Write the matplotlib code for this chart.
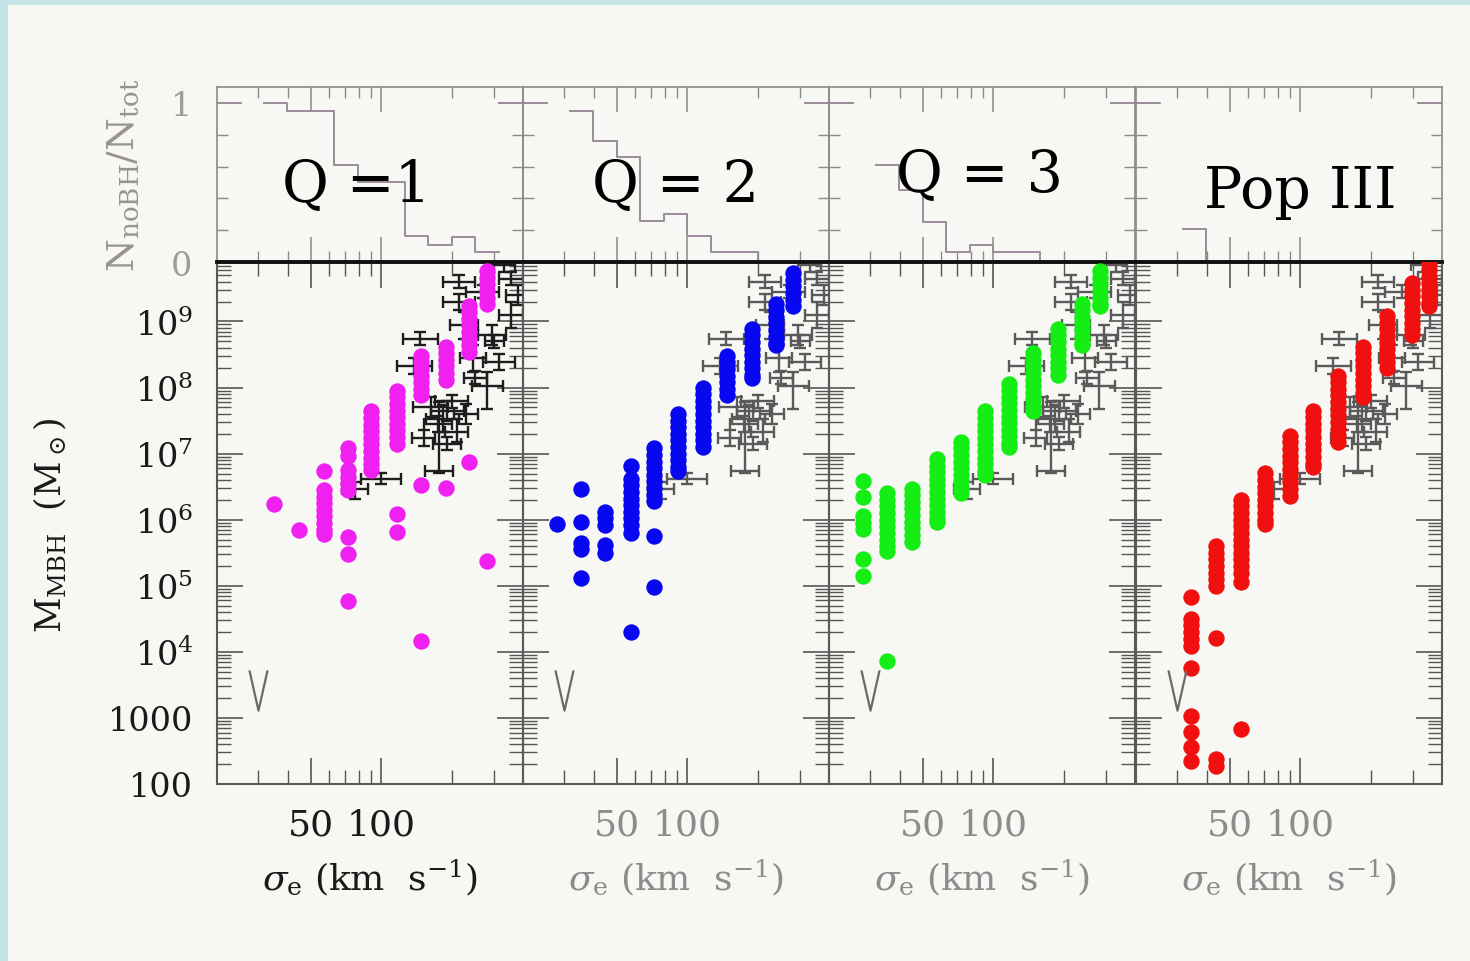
import numpy as np
import matplotlib
matplotlib.use('Agg')
import matplotlib.pyplot as plt
from matplotlib.path import Path
from matplotlib.patches import Rectangle
from matplotlib.ticker import FixedLocator, LogLocator, NullFormatter, FuncFormatter

plt.rcParams['font.family'] = ['DejaVu Serif']
plt.rcParams['mathtext.fontset'] = 'dejavuserif'

# ---------------- data ----------------
panel_titles = ['Q =1', 'Q = 2', 'Q = 3', 'Pop III']
panel_colors = ['#f020f0', '#0808f0', '#14ee14', '#f01010']

# model MBH columns: sigma (km/s) and log10(M_MBH/Msun) for each column
q1_sigma = [35.1, 44.5, 56.9, 72.2, 90.6, 117, 148, 188, 236, 282]
q1_logM = [
    [6.24],
    [5.85],
    [6.73, 6.45, 6.35, 6.25, 6.15, 6.05, 5.95, 5.85, 5.79],
    [7.08, 6.97, 6.75, 6.65, 6.55, 6.45, 5.74, 5.48, 4.77],
    [7.64, 7.54, 7.44, 7.34, 7.24, 7.14, 7.04, 6.94, 6.84, 6.75],
    [7.95, 7.85, 7.75, 7.65, 7.55, 7.45, 7.35, 7.25, 7.15, 6.08, 5.82],
    [8.48, 8.38, 8.28, 8.18, 8.08, 7.98, 7.88, 6.52, 4.17],
    [8.62, 8.52, 8.42, 8.32, 8.22, 8.12, 6.48],
    [9.24, 9.14, 9.04, 8.94, 8.84, 8.74, 8.64, 8.54, 6.88],
    [9.76, 9.66, 9.56, 9.46, 9.36, 9.26, 5.38],
]

q2_sigma = [27.9, 35.4, 44.5, 57.5, 72.2, 91.4, 116, 147, 188, 239, 282]
q2_logM = [
    [5.93],
    [6.47, 5.97, 5.65, 5.55, 5.12],
    [6.12, 6.02, 5.92, 5.62, 5.50],
    [6.82, 6.62, 6.52, 6.42, 6.32, 6.22, 6.12, 6.02, 5.92, 5.80, 4.30],
    [7.08, 6.98, 6.88, 6.78, 6.68, 6.58, 6.48, 6.38, 6.28, 5.76, 4.98],
    [7.60, 7.50, 7.40, 7.30, 7.20, 7.10, 7.00, 6.90, 6.80, 6.73],
    [8.00, 7.90, 7.80, 7.70, 7.60, 7.50, 7.40, 7.30, 7.20, 7.10],
    [8.48, 8.38, 8.28, 8.18, 8.08, 7.98, 7.88],
    [8.89, 8.79, 8.69, 8.59, 8.49, 8.39, 8.29, 8.19, 8.14],
    [9.27, 9.17, 9.07, 8.97, 8.87, 8.77, 8.67, 8.64],
    [9.73, 9.63, 9.53, 9.43, 9.33, 9.23],
]

q3_sigma = [27.9, 35.4, 44.9, 57.5, 72.9, 92.5, 117, 148, 188, 239, 285]
q3_logM = [
    [6.59, 6.35, 6.05, 5.95, 5.86, 5.41, 5.15],
    [6.40, 6.30, 6.20, 6.10, 6.00, 5.90, 5.80, 5.70, 5.60, 5.52, 3.86],
    [6.47, 6.37, 6.27, 6.17, 6.07, 5.97, 5.87, 5.77, 5.67],
    [6.92, 6.82, 6.72, 6.62, 6.52, 6.42, 6.32, 6.22, 6.12, 6.02, 5.97],
    [7.18, 7.08, 6.98, 6.88, 6.78, 6.68, 6.58, 6.48, 6.40],
    [7.64, 7.54, 7.44, 7.34, 7.24, 7.14, 7.04, 6.94, 6.84, 6.74, 6.67],
    [8.06, 7.96, 7.86, 7.76, 7.66, 7.56, 7.46, 7.36, 7.26, 7.16, 7.10],
    [8.52, 8.42, 8.32, 8.22, 8.12, 8.02, 7.92, 7.82, 7.72, 7.65],
    [8.89, 8.79, 8.69, 8.59, 8.49, 8.39, 8.29, 8.19],
    [9.27, 9.17, 9.07, 8.97, 8.87, 8.77, 8.67, 8.64],
    [9.76, 9.66, 9.56, 9.46, 9.36, 9.26, 9.23],
]

p3_sigma = [34.4, 43.6, 55.8, 70.8, 90.6, 112.7, 144, 185, 234, 297, 351]
p3_logM = [
    [4.83, 4.50, 4.40, 4.30, 4.20, 4.09, 3.76, 3.03, 2.79, 2.56, 2.35],
    [5.60, 5.50, 5.40, 5.30, 5.20, 5.10, 5.00, 4.21, 2.38, 2.27],
    [6.30, 6.20, 6.10, 6.00, 5.90, 5.80, 5.70, 5.60, 5.50, 5.40, 5.30, 5.20, 5.06, 2.83],
    [6.70, 6.60, 6.50, 6.40, 6.30, 6.20, 6.10, 6.00, 5.94],
    [7.27, 7.17, 7.07, 6.97, 6.87, 6.77, 6.67, 6.57, 6.47, 6.36],
    [7.65, 7.55, 7.45, 7.35, 7.25, 7.15, 7.05, 6.95, 6.85, 6.80],
    [8.18, 8.08, 7.98, 7.88, 7.78, 7.68, 7.58, 7.48, 7.38, 7.28, 7.18],
    [8.62, 8.52, 8.42, 8.32, 8.22, 8.12, 8.02, 7.92, 7.86],
    [9.08, 8.98, 8.88, 8.78, 8.68, 8.58, 8.48, 8.38, 8.29],
    [9.58, 9.48, 9.38, 9.28, 9.18, 9.08, 8.98, 8.88, 8.79],
    [9.88, 9.78, 9.68, 9.58, 9.48, 9.38, 9.28, 9.24],
]

model_sigma = [q1_sigma, q2_sigma, q3_sigma, p3_sigma]
model_logM = [q1_logM, q2_logM, q3_logM, p3_logM]

# observed galaxies: log sigma, log M, sigma err (dex), M err low/high (dex)
obs_logsig = [2.165, 2.14, 2.21, 2.18, 2.244, 2.00, 1.888, 2.30, 2.28, 2.26, 2.32,
              2.33, 2.33, 2.43, 2.55, 2.35, 2.47, 2.48, 2.39, 2.50, 2.45, 2.58,
              2.55, 2.28, 2.40, 2.52, 2.24, 2.36]
obs_logM = [8.74, 8.32, 7.71, 7.23, 6.73, 6.62, 6.47, 7.79, 7.64, 7.53, 7.33,
            9.60, 9.30, 9.45, 9.65, 8.94, 8.79, 8.70, 8.44, 8.39, 8.03, 9.40,
            9.10, 7.15, 8.15, 9.85, 7.45, 7.60]
obs_dsig = [0.075, 0.075, 0.075, 0.05, 0.06, 0.085, 0.055, 0.07, 0.07, 0.07, 0.05,
            0.07, 0.07, 0.07, 0.05, 0.06, 0.06, 0.04, 0.055, 0.07, 0.065, 0.05,
            0.05, 0.06, 0.05, 0.05, 0.06, 0.05]
obs_dM_lo = [0.10, 0.12, 0.15, 0.12, 0.02, 0.08, 0.15, 0.10, 0.15, 0.20, 0.15,
             0.10, 0.12, 0.10, 0.10, 0.20, 0.15, 0.10, 0.20, 0.12, 0.35, 0.15,
             0.20, 0.10, 0.10, 0.10, 0.12, 0.15]
obs_dM_hi = [0.10, 0.12, 0.15, 0.12, 1.05, 0.08, 0.10, 0.10, 0.15, 0.20, 0.20,
             0.10, 0.12, 0.10, 0.10, 0.20, 0.15, 0.10, 0.20, 0.12, 0.20, 0.15,
             0.20, 0.10, 0.10, 0.10, 0.12, 0.15]

# upper limit marker ("V")
limit_sigma = 29.8
limit_logM = 3.42

# fraction of halos without BH (histogram), bins in log sigma
hist_edges_log = [1.3, 1.4, 1.5, 1.6, 1.7, 1.8, 1.9, 2.0, 2.1, 2.2, 2.3, 2.4, 2.5]
hist_vals = [
    [1.0, np.nan, 1.0, 0.95, 0.95, 0.61, 0.50, 0.50, 0.165, 0.11, 0.16, 0.06],
    [1.0, np.nan, 0.95, 0.76, 0.66, 0.26, 0.30, 0.165, 0.06, 0.06, 0.0, 0.0],
    [1.0, np.nan, 0.61, 0.45, 0.25, 0.06, 0.11, 0.06, 0.06, 0.0, 0.0, 0.0],
    [1.0, np.nan, 0.21, 0.0, 0.0, 0.0, 0.0, 0.0, 0.0, 0.0, 0.0, 0.0],
]
hist_last_edges_log = [2.5, 2.6]
hist_last_vals = [1.0, 1.0, 1.0, 1.0]

x_major = [50, 100]
x_minor = [30, 40, 60, 70, 80, 90, 200, 300]

# ---------------- figure ----------------
W, H = 1470, 962
fig = plt.figure(figsize=(W / 100, H / 100), dpi=100)
fig.patch.set_facecolor('#c4e3e7')
fig.add_artist(Rectangle((8 / W, 0), 1 - 8 / W, 1 - 6 / H, transform=fig.transFigure,
                         facecolor='#f7f7f3', edgecolor='none', zorder=-5))

col_x0 = [217, 523, 829, 1136]
pw = 306

title_pos = [(356, 202), (675, 202), (979, 192), (1300, 208)]

vpath = Path([(-0.45, 1.0), (0.0, -1.0), (0.45, 1.0)],
             [Path.MOVETO, Path.LINETO, Path.LINETO])


def ylab(v, p):
    e = int(round(np.log10(v)))
    if e >= 4:
        return r'$10^{%d}$' % e
    return '%d' % round(v)


for i in range(4):
    x0 = col_x0[i]
    axh = fig.add_axes([x0 / W, (H - 263) / H, pw / W, 175 / H])
    axs = fig.add_axes([x0 / W, (H - 785) / H, pw / W, 522 / H])
    for ax in (axh, axs):
        ax.set_facecolor('none')
        ax.set_xscale('log')
        ax.set_xlim(20, 400)
        ax.xaxis.set_major_locator(FixedLocator(x_major))
        ax.xaxis.set_minor_locator(FixedLocator(x_minor))
        ax.xaxis.set_minor_formatter(NullFormatter())

    lab_col = '#1a1a1a' if i == 0 else '#8c8c8c'

    # ---- histogram panel ----
    axh.set_ylim(0, 1.1)
    xs, ys = [], []
    for k, v in enumerate(hist_vals[i]):
        xs += [hist_edges_log[k], hist_edges_log[k + 1]]
        ys += [v, v]
    axh.plot(10 ** np.array(xs), ys, color='#9a8c98', lw=1.4, zorder=2)
    axh.plot(10 ** np.array(hist_last_edges_log), [hist_last_vals[i]] * 2,
             color='#9a8c98', lw=1.4, zorder=2)
    axh.yaxis.set_major_locator(FixedLocator([0, 1]))
    axh.yaxis.set_minor_locator(FixedLocator([0.2, 0.4, 0.6, 0.8]))
    axh.yaxis.set_major_formatter(FuncFormatter(lambda v, p: '%d' % v))
    axh.tick_params(which='both', direction='in', top=True, right=True,
                    labelbottom=False, color='#8a8a8a')
    axh.tick_params(which='major', length=18, width=1.1)
    axh.tick_params(which='minor', length=8, width=1.0)
    axh.tick_params(axis='y', which='major', pad=18, labelsize=24,
                    labelcolor='#a09a9a', labelleft=(i == 0))
    for sp in axh.spines.values():
        sp.set_color('#8a8a8a')
        sp.set_linewidth(1.2)
    axh.spines['bottom'].set_color('#111111')
    axh.spines['bottom'].set_linewidth(2.6)
    axh.text(title_pos[i][0] / W, 1 - title_pos[i][1] / H, panel_titles[i],
             transform=fig.transFigure, ha='center', va='baseline',
             fontsize=41, color='black', zorder=5)

    # ---- scatter panel ----
    axs.set_yscale('log')
    axs.set_ylim(100, 10 ** 9.9)
    obs_color = '#1e1e1e' if i == 0 else '#5a5a5a'
    ls_ = np.array(obs_logsig)
    lm_ = np.array(obs_logM)
    s = 10 ** ls_
    m = 10 ** lm_
    xerr = [s - 10 ** (ls_ - np.array(obs_dsig)), 10 ** (ls_ + np.array(obs_dsig)) - s]
    yerr = [m - 10 ** (lm_ - np.array(obs_dM_lo)), 10 ** (lm_ + np.array(obs_dM_hi)) - m]
    axs.errorbar(s, m, xerr=xerr, yerr=yerr, fmt='none', ecolor=obs_color,
                 elinewidth=1.7, capsize=4.5, capthick=1.7, zorder=2)

    for sig, col in zip(model_sigma[i], model_logM[i]):
        axs.plot([sig] * len(col), 10 ** np.array(col), 'o', ms=11.8,
                 color=panel_colors[i], mec='none', ls='none', zorder=3)

    axs.plot([limit_sigma], [10 ** limit_logM], marker=vpath, ms=29, mfc='none',
             mec='#6a6a6a', mew=1.6, ls='none', zorder=3)

    axs.yaxis.set_major_locator(LogLocator(base=10, numticks=20))
    axs.yaxis.set_minor_locator(LogLocator(base=10, subs=np.arange(2, 10), numticks=20))
    axs.yaxis.set_minor_formatter(NullFormatter())
    axs.yaxis.set_major_formatter(FuncFormatter(ylab))
    axs.xaxis.set_major_formatter(FuncFormatter(lambda v, p: '%d' % v))
    axs.tick_params(which='both', direction='in', top=True, right=True, color='#555555')
    axs.tick_params(which='major', length=19, width=1.2)
    axs.tick_params(which='minor', length=10, width=1.0)
    axs.tick_params(axis='x', which='major', pad=17, labelsize=26, labelcolor=lab_col)
    axs.tick_params(axis='y', which='major', pad=17, labelsize=24,
                    labelcolor='#1a1a1a', labelleft=(i == 0))
    for sp in axs.spines.values():
        sp.set_color('#5a5a5a')
        sp.set_linewidth(1.5)
    axs.spines['top'].set_color('#111111')
    axs.spines['top'].set_linewidth(2.6)

    axs.text(0.5, -0.178, r'$\sigma_{\rm e}$ (km  s$^{-1}$)', transform=axs.transAxes,
             ha='center', va='center', fontsize=26, color=lab_col)

fig.text(50 / W, 1 - 525 / H, r'M$_{\rm MBH}$  (M$_\odot$)', rotation=90,
         ha='center', va='center', fontsize=25, color='#1a1a1a')
fig.text(124 / W, 1 - 175 / H, r'N$_{\rm noBH}$/N$_{\rm tot}$', rotation=90,
         ha='center', va='center', fontsize=27, color='#9a9292')

fig.savefig('out.png', dpi=100, facecolor=fig.get_facecolor())
